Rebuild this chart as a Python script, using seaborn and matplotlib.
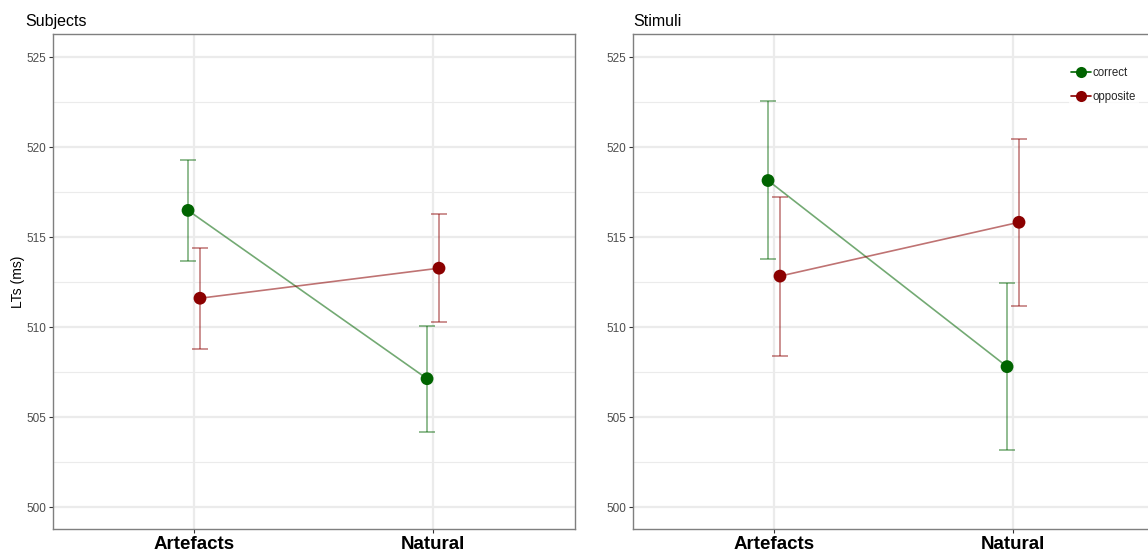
import matplotlib
matplotlib.use("Agg")
import matplotlib.pyplot as plt
import seaborn as sns
import pandas as pd
import numpy as np

categories = ["Artefacts", "Natural"]
conditions = ["correct", "opposite"]
panels = ["Subjects", "Stimuli"]

# Subjects panel
subj_correct = [516.48, 507.13]
subj_correct_lo = [513.66, 504.15]
subj_correct_hi = [519.30, 510.07]
subj_opposite = [511.60, 513.27]
subj_opposite_lo = [508.79, 510.29]
subj_opposite_hi = [514.38, 516.26]

# Stimuli panel
stim_correct = [518.14, 507.80]
stim_correct_lo = [513.77, 503.15]
stim_correct_hi = [522.57, 512.44]
stim_opposite = [512.83, 515.82]
stim_opposite_lo = [508.40, 511.17]
stim_opposite_hi = [517.20, 520.46]

yticks = [500, 505, 510, 515, 520, 525]

rows = []
for panel, data in [("Subjects", [(subj_correct, subj_correct_lo, subj_correct_hi),
                                  (subj_opposite, subj_opposite_lo, subj_opposite_hi)]),
                    ("Stimuli", [(stim_correct, stim_correct_lo, stim_correct_hi),
                                 (stim_opposite, stim_opposite_lo, stim_opposite_hi)])]:
    for cond, (m, lo, hi) in zip(conditions, data):
        for i, cat in enumerate(categories):
            rows.append(dict(panel=panel, cond=cond, cat=cat, idx=i,
                             mean=m[i], lo=lo[i], hi=hi[i]))
df = pd.DataFrame(rows)

sns.set_theme(style="white")
plt.rcParams['font.family'] = ['Liberation Sans', 'DejaVu Sans']

colors = {"correct": "#006400", "opposite": "#8B0000"}
dodge = {"correct": -0.025, "opposite": 0.025}

W, H = 1148, 553
fig = plt.figure(figsize=(W / 100, H / 100), dpi=100)

def px_axes(x0, y0, x1, y1):
    return fig.add_axes([x0 / W, 1 - y1 / H, (x1 - x0) / W, (y1 - y0) / H])

axes = [px_axes(53, 34, 575, 529), px_axes(633, 34, 1155, 529)]

for ax, panel in zip(axes, panels):
    sub = df[df.panel == panel].copy()
    sub["x"] = sub["idx"] + sub["cond"].map(dodge)
    # minor and major grid
    for yv in np.arange(500, 526, 2.5):
        ax.axhline(yv, color="#ebebeb", lw=1.6 if yv % 5 == 0 else 0.8, zorder=0)
    for xv in range(len(categories)):
        ax.axvline(xv, color="#ebebeb", lw=1.6, zorder=0)
    for cond in conditions:
        s = sub[sub.cond == cond]
        ax.errorbar(s["x"], s["mean"], yerr=[s["mean"] - s["lo"], s["hi"] - s["mean"]],
                    fmt="none", ecolor=colors[cond], alpha=0.55, elinewidth=1.1,
                    capsize=6, capthick=1.1, zorder=2)
    sns.lineplot(data=sub, x="x", y="mean", hue="cond", palette=colors,
                 hue_order=conditions, ax=ax, legend=False, lw=1.2, alpha=0.55,
                 zorder=3, estimator=None, sort=True)
    sns.scatterplot(data=sub, x="x", y="mean", hue="cond", palette=colors,
                    hue_order=conditions, ax=ax, legend=False, s=85,
                    edgecolor="none", zorder=4)
    ax.set_xlim(-0.59, 1.594)
    ax.set_ylim(498.78, 526.28)
    ax.set_xticks(range(len(categories)))
    ax.set_xticklabels(categories, fontsize=13.5, fontweight="bold", color="black")
    ax.set_yticks(yticks)
    ax.set_yticklabels([str(v) for v in yticks], fontsize=8.5, color="#4d4d4d")
    ax.tick_params(axis="both", which="major", direction="out", length=3,
                   width=0.8, color="#333333", bottom=True, left=True, pad=2)
    ax.set_xlabel("")
    ax.set_ylabel("")
    for sp in ax.spines.values():
        sp.set_color("#7f7f7f")
        sp.set_linewidth(1.0)
    ax.set_title(panel, fontsize=11.5, loc="left", x=(25 - 53) / 522 if panel == "Subjects" else 0.0,
                 pad=6, color="black")

axes[0].set_ylabel("LTs (ms)", fontsize=10, color="black", labelpad=1)

# legend
from matplotlib.lines import Line2D
handles = [Line2D([0], [0], color=colors[c], marker="o", markersize=8, lw=1.2,
                  markeredgewidth=0) for c in conditions]
leg = fig.legend(handles, conditions, loc="upper left",
                 bbox_to_anchor=(1063 / W, 1 - 59 / H), frameon=True,
                 fontsize=8.3, handlelength=1.7, handletextpad=0.2,
                 labelspacing=1.05, borderpad=0.2)
leg.get_frame().set_facecolor("white")
leg.get_frame().set_edgecolor("none")
leg.get_frame().set_boxstyle("square", pad=0)

fig.savefig("out.png", dpi=100)
